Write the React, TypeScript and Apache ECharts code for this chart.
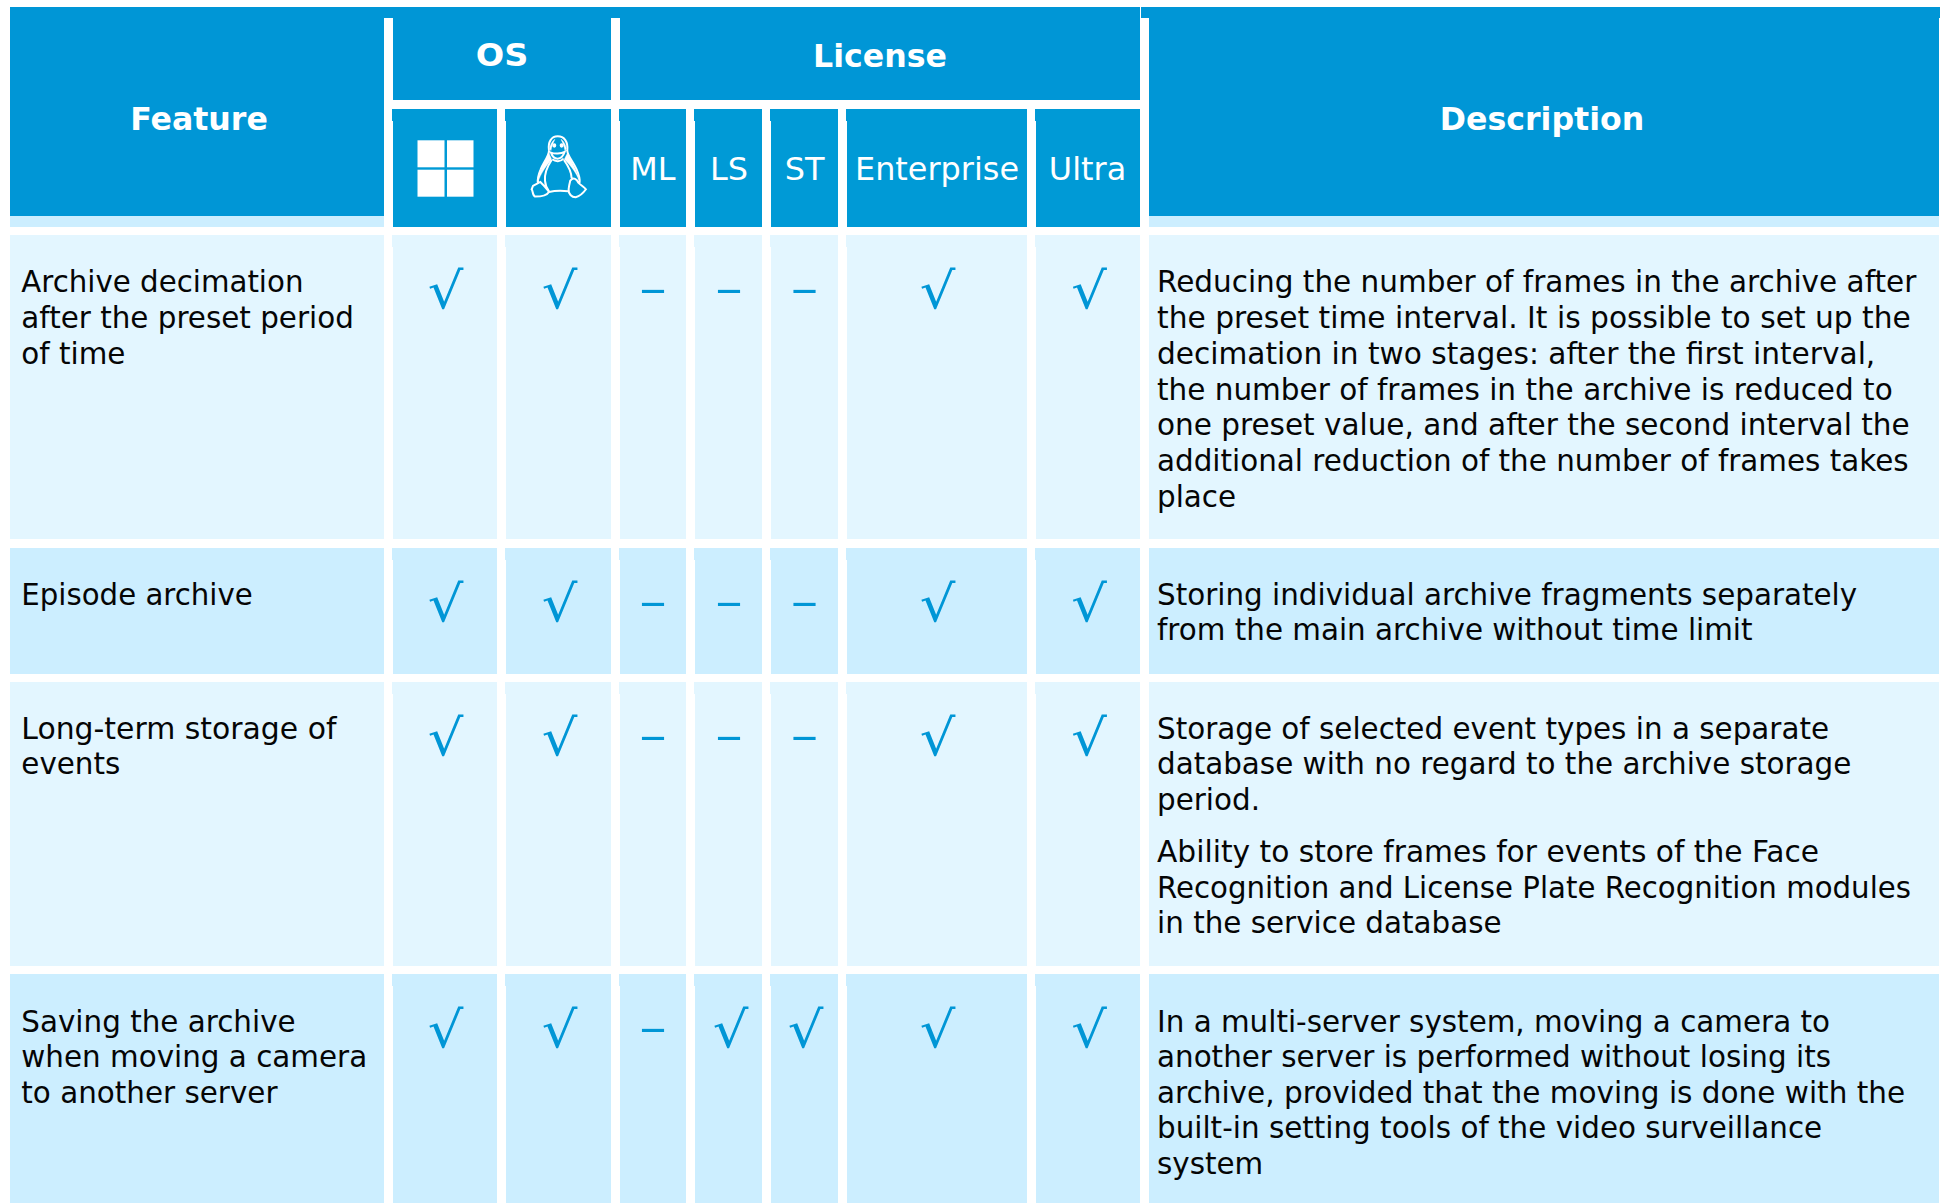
import React, { useEffect, useRef } from "react";
import * as echarts from "echarts";

// ---------- content ----------
const features = [
  ["Archive decimation", "after the preset period", "of time"],
  ["Episode archive"],
  ["Long-term storage of", "events"],
  ["Saving the archive", "when moving a camera", "to another server"],
];
const descriptions = [
  [["Reducing the number of frames in the archive after", "the preset time interval. It is possible to set up the", "decimation in two stages: after the first interval,", "the number of frames in the archive is reduced to", "one preset value, and after the second interval the", "additional reduction of the number of frames takes", "place"]],
  [["Storing individual archive fragments separately", "from the main archive without time limit"]],
  [["Storage of selected event types in a separate", "database with no regard to the archive storage", "period."], ["Ability to store frames for events of the Face", "Recognition and License Plate Recognition modules", "in the service database"]],
  [["In a multi-server system, moving a camera to", "another server is performed without losing its", "archive, provided that the moving is done with the", "built-in setting tools of the video surveillance", "system"]],
];
const windowsMarks = ["√", "√", "√", "√"];
const linuxMarks = ["√", "√", "√", "√"];
const mlMarks = ["–", "–", "–", "–"];
const lsMarks = ["–", "–", "–", "√"];
const stMarks = ["–", "–", "–", "√"];
const enterpriseMarks = ["√", "√", "√", "√"];
const ultraMarks = ["√", "√", "√", "√"];
const markColumns = [windowsMarks, linuxMarks, mlMarks, lsMarks, stMarks, enterpriseMarks, ultraMarks];
const subHeaders = ["", "", "ML", "LS", "ST", "Enterprise", "Ultra"];

// ---------- layout ----------
const W = 1946, H = 1203;
const BLUE = "#0096D6", BLUE2 = "#009AD6", ROW_A = "#E3F6FF", ROW_B = "#CCEEFF", INK = "#050505";
const FAMILY = "'DejaVu Sans', Verdana, sans-serif";
const colX = [[393, 497], [506, 611], [620, 686], [695, 762], [771, 838], [847, 1027], [1036, 1140]];
const markCx = [445.5, 559.5, 653, 729, 804, 937.5, 1089];
const dashCx = [446, 560, 653, 729, 804.5, 938, 1090];
const rowY = [[235, 539], [548, 674], [682, 966], [974, 1203]];
const rowPitch = [35.85, 35.5, 35.5, 35.6];
const rowShift = [0.4, 0, 0, 1];

// small per-line width corrections (DejaVu Sans vs the original's face)
const stretch: Record<string, number> = {
  "Reducing the number of frames in the archive after": 1.003,
  "the preset time interval. It is possible to set up the": 1.01,
  "decimation in two stages: after the first interval,": 1.007,
  "the number of frames in the archive is reduced to": 1.0034,
  "one preset value, and after the second interval the": 1.003,
  "Ability to store frames for events of the Face": 1.0095,
  "Recognition and License Plate Recognition modules": 0.995,
  "Long-term storage of": 1.016,
  "Archive decimation": 0.996,
  "archive, provided that the moving is done with the": 1.003,
  "Episode archive": 0.995,
};

type Rect = [number, number, number, number, string];
const rects: Rect[] = [
  [10, 7, 1140, 18, BLUE],
  [1141, 7, 1940, 18, BLUE],
  [10, 18, 384, 216, BLUE],
  [10, 216, 384, 227, ROW_B],
  [393, 18, 611, 100, BLUE],
  [620, 18, 1140, 100, BLUE],
  [1149, 18, 1939, 216, BLUE],
  [1149, 216, 1939, 227, ROW_B],
];
colX.forEach(([a, b]) => {
  rects.push([a - 1, 109, b, 121, BLUE2]);
  rects.push([a, 121, b, 227, BLUE2]);
});
rowY.forEach(([t, b], r) => {
  const c = r % 2 === 0 ? ROW_A : ROW_B;
  rects.push([10, t, 384, b, c]);
  colX.forEach(([x0, x1]) => {
    rects.push([x0 - 1, t, x1, t + 12, c]);
    rects.push([x0, t + 12, x1, b, c]);
  });
  rects.push([1149, t, 1939, b, c]);
});
// Windows logo panes
[[417.5, 140.3, 444.5, 167.3], [447, 140.3, 473.5, 167.3], [417.5, 169.7, 444.5, 196.7], [447, 169.7, 473.5, 196.7]].forEach(
  (p) => rects.push([p[0], p[1], p[2], p[3], "#FFFFFF"])
);

type Label = { x: number; y: number; t: string; size: number; bold?: boolean; fill: string; align: string; sx?: number };
const labels: Label[] = [];
const BODY = 29.4;
const OFF = 10.2; // baseline -> central
const HEAD = 31.6;
labels.push({ x: 199, y: 129 - OFF, t: "Feature", size: HEAD, bold: true, fill: "#fff", align: "center" });
labels.push({ x: 502, y: 65.7 - OFF, t: "OS", size: HEAD, bold: true, fill: "#fff", align: "center", sx: 1.06 });
labels.push({ x: 880, y: 65.7 - OFF, t: "License", size: HEAD, bold: true, fill: "#fff", align: "center" });
labels.push({ x: 1542, y: 129 - OFF, t: "Description", size: HEAD, bold: true, fill: "#fff", align: "center" });
const subCx = [0, 0, 653, 729, 804.5, 937, 1087.5];
subHeaders.forEach((s, i) => {
  if (s) labels.push({ x: subCx[i], y: 179.6 - OFF, t: s, size: 31.9, fill: "#fff", align: "center" });
});
rowY.forEach(([t], r) => {
  const base = t + 56.8 + rowShift[r];
  const LH = rowPitch[r];
  features[r].forEach((line, i) =>
    labels.push({ x: 21.3, y: base + i * LH - OFF, t: line, size: BODY, fill: INK, align: "left", sx: stretch[line] })
  );
  let y = base;
  descriptions[r].forEach((para) => {
    para.forEach((line) => {
      labels.push({ x: 1157, y: y - OFF, t: line, size: BODY, fill: INK, align: "left", sx: stretch[line] });
      y += LH;
    });
    y += 52.5 - LH;
  });
  markColumns.forEach((col, c) => {
    const m = col[r];
    if (m === "√") labels.push({ x: markCx[c] + (c === 3 || c === 4 ? 1.5 : 0), y: t + 56, t: m, size: 50, fill: BLUE, align: "center", sx: 1.12 });
    else labels.push({ x: dashCx[c], y: t + 54.3, t: m, size: 44, fill: BLUE, align: "center", sx: 1.25 });
  });
});

// Tux, in a 3x drawing space
const tuxOutline =
  "M72 62 C68 35 80 19 98 19 C118 19 130 35 127 62 C127 76 145 96 155 118 C162 134 166 146 164 158 " +
  "M72 62 C72 78 55 98 47 118 C41 132 36 146 39 160 " +
  "M80 90 C68 108 58 130 60 152 C61 165 66 176 72 184 " +
  "M117 90 C130 108 140 130 140 145 " +
  "M24 168 L46 156 C56 166 66 176 72 186 C66 196 52 200 30 200 C22 196 24 182 20 178 Z " +
  "M72 186 C90 182 112 182 130 184 " +
  "M136 152 C146 140 156 148 160 158 C168 166 178 172 183 178 C176 188 166 198 152 202 C140 202 130 192 131 178 C132 168 134 160 136 152 Z " +
  "M78 68 C88 72 108 72 119 66 C114 80 106 86 98 86 C90 86 82 80 78 68 Z " +
  "M82 88 C92 96 106 96 116 86 " +
  "M85 46 C85 42 91 42 91 46 C91 52 85 52 85 46 Z M107 46 C107 42 113 42 113 46 C113 52 107 52 107 46 Z";
const tuxArms =
  "M72 70 C60 95 42 125 38 158 C48 130 62 110 80 88 Z " +
  "M127 70 C140 95 158 125 165 158 C155 130 140 110 118 88 Z " +
  "M74 56 C76 40 86 30 90 28 C84 40 80 50 78 62 Z M124 56 C122 40 112 30 108 28 C114 40 118 50 120 62 Z";
echarts.graphic.registerShape("tux", echarts.graphic.extendPath(tuxOutline, {}) as any);
echarts.graphic.registerShape("tuxArms", echarts.graphic.extendPath(tuxArms, {}) as any);

function buildOption(): any {
  return {
    animation: false,
    backgroundColor: "#ffffff",
    grid: { left: 0, right: 0, top: 0, bottom: 0 },
    xAxis: { type: "value", min: 0, max: W, show: false },
    yAxis: { type: "value", min: 0, max: H, inverse: true, show: false },
    series: [
      {
        type: "custom",
        name: "cells",
        coordinateSystem: "cartesian2d",
        silent: true,
        clip: false,
        data: rects.map((r) => [r[0], r[1], r[2], r[3]]),
        renderItem: (p: any, api: any) => {
          const a = api.coord([api.value(0), api.value(1)]);
          const b = api.coord([api.value(2), api.value(3)]);
          return {
            type: "rect",
            shape: { x: a[0], y: a[1], width: b[0] - a[0], height: b[1] - a[1] },
            style: { fill: rects[p.dataIndex][4] },
          };
        },
      },
      {
        type: "custom",
        name: "tux",
        coordinateSystem: "cartesian2d",
        silent: true,
        clip: false,
        data: [[525, 130]],
        renderItem: (_p: any, api: any) => {
          const a = api.coord([api.value(0), api.value(1)]);
          return {
            type: "group",
            x: a[0],
            y: a[1],
            scaleX: 1 / 3,
            scaleY: 1 / 3,
            children: [
              { type: "tux", style: { fill: "none", stroke: "#ffffff", lineWidth: 6 } },
              { type: "tuxArms", style: { fill: "#ffffff", stroke: "#ffffff", lineWidth: 1 } },
            ],
          };
        },
      },
      {
        type: "custom",
        name: "texts",
        coordinateSystem: "cartesian2d",
        silent: true,
        clip: false,
        data: labels.map((l) => [l.x, l.y]),
        renderItem: (p: any, api: any) => {
          const l = labels[p.dataIndex];
          const a = api.coord([api.value(0), api.value(1)]);
          return {
            type: "text",
            x: a[0],
            y: a[1],
            scaleX: l.sx || 1,
            style: {
              text: l.t,
              x: 0,
              y: 0,
              fill: l.fill,
              align: l.align,
              verticalAlign: "middle",
              fontFamily: FAMILY,
              fontSize: l.size,
              fontWeight: l.bold ? "bold" : "normal",
            },
          };
        },
      },
    ],
  };
}

export default function App() {
  const ref = useRef<HTMLDivElement>(null);
  useEffect(() => {
    const chart = echarts.init(ref.current!, undefined, { renderer: "svg", width: W, height: H });
    chart.setOption(buildOption());
    return () => chart.dispose();
  }, []);
  return <div ref={ref} style={{ position: "fixed", left: 0, top: 0, width: W, height: H }} />;
}
